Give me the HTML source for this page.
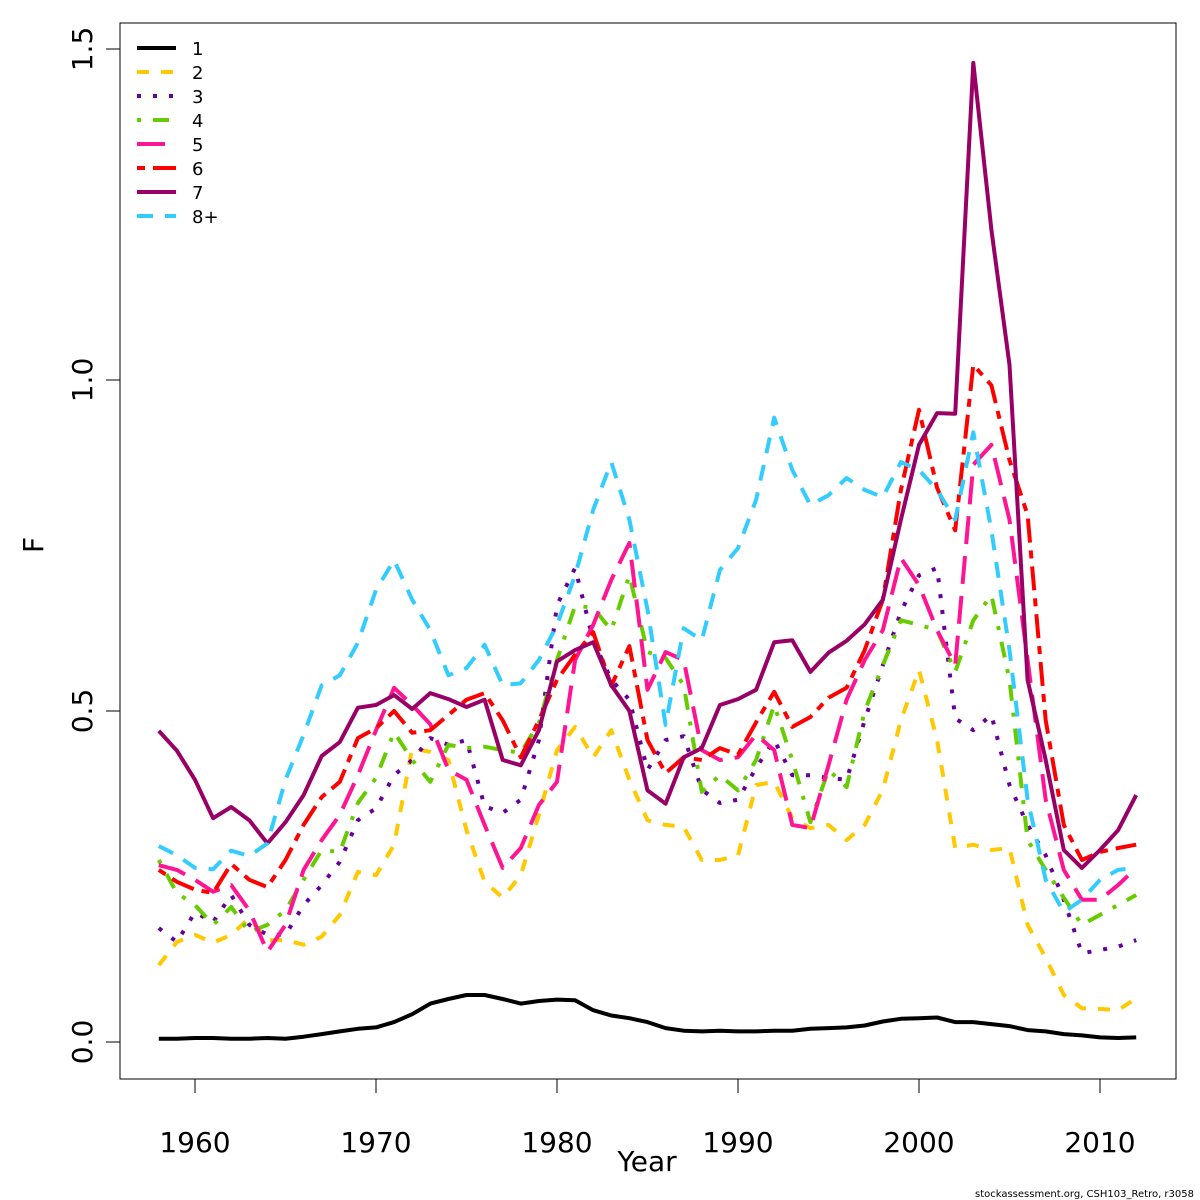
<!DOCTYPE html>
<html><head><meta charset="utf-8"><style>
body{margin:0;background:#fff}
svg{display:block;font-family:"DejaVu Sans","Liberation Sans",sans-serif}
</style></head><body>
<svg id="chart" width="1200" height="1200" viewBox="0 0 1200 1200">
<rect x="0" y="0" width="1200" height="1200" fill="#fff"/>
<g id="plot"></g>
<rect x="120" y="23" width="1056" height="1056" fill="none" stroke="#000" stroke-width="1"/>
<g id="axes"></g>
<text x="647" y="1171" font-size="28" text-anchor="middle">Year</text>
<text x="0" y="0" font-size="28" text-anchor="middle" transform="translate(43,545) rotate(-90)">F</text>
<text x="1194" y="1197" font-size="10" text-anchor="end">stockassessment.org, CSH103_Retro, r3058</text>
<g id="legend"></g>
</svg>
<script>
const years = [];
for (let y = 1958; y <= 2012; y++) years.push(y);
const seriesNames = ["1","2","3","4","5","6","7","8+"];
const f1 = [0.005,0.005,0.006,0.006,0.005,0.005,0.006,0.005,0.008,0.012,0.016,0.02,0.022,0.03,0.042,0.058,0.065,0.071,0.071,0.065,0.058,0.062,0.064,0.063,0.048,0.04,0.036,0.03,0.021,0.017,0.016,0.017,0.016,0.016,0.017,0.017,0.02,0.021,0.022,0.025,0.031,0.035,0.036,0.037,0.03,0.03,0.027,0.024,0.018,0.016,0.012,0.01,0.007,0.006,0.007];
const f2 = [0.116,0.151,0.162,0.15,0.162,0.187,0.154,0.154,0.147,0.159,0.192,0.257,0.252,0.298,0.444,0.438,0.426,0.32,0.242,0.218,0.252,0.343,0.441,0.476,0.43,0.471,0.396,0.335,0.328,0.325,0.275,0.275,0.282,0.388,0.393,0.338,0.323,0.328,0.305,0.328,0.381,0.486,0.562,0.456,0.293,0.298,0.29,0.293,0.177,0.127,0.071,0.051,0.05,0.048,0.066];
const f3 = [0.172,0.151,0.196,0.181,0.222,0.177,0.162,0.162,0.207,0.237,0.272,0.335,0.353,0.403,0.426,0.459,0.449,0.456,0.356,0.346,0.366,0.456,0.66,0.716,0.607,0.547,0.517,0.411,0.456,0.462,0.381,0.361,0.366,0.414,0.456,0.403,0.403,0.399,0.396,0.486,0.569,0.65,0.705,0.716,0.489,0.471,0.494,0.388,0.328,0.282,0.215,0.134,0.139,0.144,0.154];
const f4 = [0.275,0.225,0.207,0.177,0.204,0.166,0.177,0.199,0.245,0.29,0.287,0.361,0.399,0.468,0.426,0.393,0.449,0.444,0.446,0.441,0.437,0.482,0.577,0.659,0.656,0.622,0.705,0.589,0.58,0.539,0.378,0.403,0.38,0.426,0.509,0.426,0.332,0.411,0.385,0.5,0.569,0.637,0.63,0.622,0.559,0.637,0.675,0.547,0.305,0.26,0.218,0.177,0.192,0.207,0.222];
const f5 = [0.267,0.26,0.245,0.227,0.237,0.199,0.136,0.177,0.26,0.305,0.343,0.403,0.471,0.535,0.509,0.48,0.411,0.396,0.328,0.263,0.293,0.358,0.393,0.577,0.63,0.698,0.754,0.532,0.589,0.577,0.441,0.426,0.43,0.464,0.441,0.328,0.323,0.418,0.517,0.577,0.622,0.731,0.69,0.622,0.569,0.872,0.902,0.789,0.577,0.366,0.26,0.215,0.215,0.237,0.263];
const f6 = [0.26,0.242,0.23,0.225,0.269,0.245,0.234,0.275,0.328,0.37,0.393,0.459,0.474,0.5,0.467,0.471,0.494,0.517,0.527,0.486,0.43,0.486,0.547,0.585,0.619,0.538,0.598,0.456,0.406,0.43,0.426,0.444,0.434,0.483,0.529,0.476,0.491,0.52,0.535,0.592,0.668,0.834,0.955,0.837,0.773,1.023,0.992,0.879,0.796,0.486,0.328,0.275,0.287,0.293,0.298];
const f7 = [0.47,0.44,0.396,0.338,0.355,0.335,0.3,0.332,0.373,0.432,0.453,0.505,0.509,0.524,0.503,0.527,0.518,0.506,0.517,0.426,0.418,0.471,0.575,0.592,0.604,0.539,0.5,0.38,0.36,0.43,0.444,0.509,0.518,0.532,0.604,0.607,0.559,0.588,0.606,0.631,0.668,0.789,0.902,0.95,0.949,1.479,1.227,1.023,0.547,0.426,0.29,0.263,0.29,0.32,0.373];
const f8 = [0.296,0.282,0.263,0.261,0.289,0.281,0.3,0.396,0.464,0.539,0.554,0.603,0.683,0.728,0.668,0.622,0.554,0.565,0.6,0.539,0.542,0.577,0.63,0.705,0.804,0.876,0.789,0.653,0.479,0.625,0.607,0.713,0.746,0.819,0.943,0.864,0.811,0.826,0.852,0.834,0.823,0.876,0.864,0.834,0.789,0.921,0.773,0.592,0.366,0.245,0.196,0.215,0.245,0.26,0.263];
const xTicks = [1960,1970,1980,1990,2000,2010];
const yTicks = [0.0,0.5,1.0,1.5];
const yTickLabels = ["0.0","0.5","1.0","1.5"];

const NS = "http://www.w3.org/2000/svg";
function xs(yr){ return 195 + (yr - 1960) * 18.1; }
function ys(v){ return 1042 - v * 662; }
const allSeries = [f1,f2,f3,f4,f5,f6,f7,f8];
const colors = ["#000000","#FFC800","#660099","#66CC00","#FF1493","#FF0000","#990066","#33CCFF"];
const dashes = ["none","12,12","4,12","4,12,16,12","28,12","8,8,24,8","none","16,12"];
const slugs = ["age-1","age-2","age-3","age-4","age-5","age-6","age-7","age-8plus"];

const plot = document.getElementById("plot");
allSeries.forEach((s, i) => {
  const p = document.createElementNS(NS, "path");
  let d = "";
  s.forEach((v, j) => { d += (j ? "L" : "M") + xs(years[j]).toFixed(1) + "," + ys(v).toFixed(1); });
  p.setAttribute("d", d);
  p.setAttribute("fill", "none");
  p.setAttribute("stroke", colors[i]);
  p.setAttribute("stroke-width", "4");
  p.setAttribute("stroke-linejoin", "round");
  if (dashes[i] !== "none") p.setAttribute("stroke-dasharray", dashes[i]);
  
  
  plot.appendChild(p);
});

const axes = document.getElementById("axes");
const xl = document.createElementNS(NS, "line");
xl.setAttribute("x1", xs(xTicks[0])); xl.setAttribute("x2", xs(xTicks[xTicks.length-1]));
xl.setAttribute("y1", 1079); xl.setAttribute("y2", 1079); xl.setAttribute("stroke", "#000");


axes.appendChild(xl);
xTicks.forEach(t => {
  const l = document.createElementNS(NS, "line");
  l.setAttribute("x1", xs(t)); l.setAttribute("x2", xs(t)); l.setAttribute("y1", 1079); l.setAttribute("y2", 1093);
  l.setAttribute("stroke", "#000");
  
  
  axes.appendChild(l);
  const tx = document.createElementNS(NS, "text");
  tx.setAttribute("x", xs(t)); tx.setAttribute("y", 1152); tx.setAttribute("font-size", "28"); tx.setAttribute("text-anchor", "middle");
  tx.textContent = t;
  
  
  axes.appendChild(tx);
});
const yl = document.createElementNS(NS, "line");
yl.setAttribute("x1", 120); yl.setAttribute("x2", 120); yl.setAttribute("y1", ys(yTicks[0])); yl.setAttribute("y2", ys(yTicks[yTicks.length-1]));
yl.setAttribute("stroke", "#000");


axes.appendChild(yl);
yTicks.forEach((t, i) => {
  const l = document.createElementNS(NS, "line");
  l.setAttribute("x1", 106); l.setAttribute("x2", 120); l.setAttribute("y1", ys(t)); l.setAttribute("y2", ys(t));
  l.setAttribute("stroke", "#000");
  
  
  axes.appendChild(l);
  const tx = document.createElementNS(NS, "text");
  tx.setAttribute("transform", "translate(92," + ys(t) + ") rotate(-90)");
  tx.setAttribute("font-size", "28"); tx.setAttribute("text-anchor", "middle");
  tx.textContent = yTickLabels[i];
  
  
  axes.appendChild(tx);
});

const legend = document.getElementById("legend");
seriesNames.forEach((n, i) => {
  const y = 48 + i * 24;
  const l = document.createElementNS(NS, "line");
  l.setAttribute("x1", 137); l.setAttribute("x2", 176); l.setAttribute("y1", y); l.setAttribute("y2", y);
  l.setAttribute("stroke", colors[i]); l.setAttribute("stroke-width", "4");
  if (dashes[i] !== "none") l.setAttribute("stroke-dasharray", dashes[i]);
  
  
  legend.appendChild(l);
  const tx = document.createElementNS(NS, "text");
  tx.setAttribute("x", 192); tx.setAttribute("y", y + 7); tx.setAttribute("font-size", "18");
  tx.textContent = n;
  
  
  legend.appendChild(tx);
});
</script>
</body></html>
